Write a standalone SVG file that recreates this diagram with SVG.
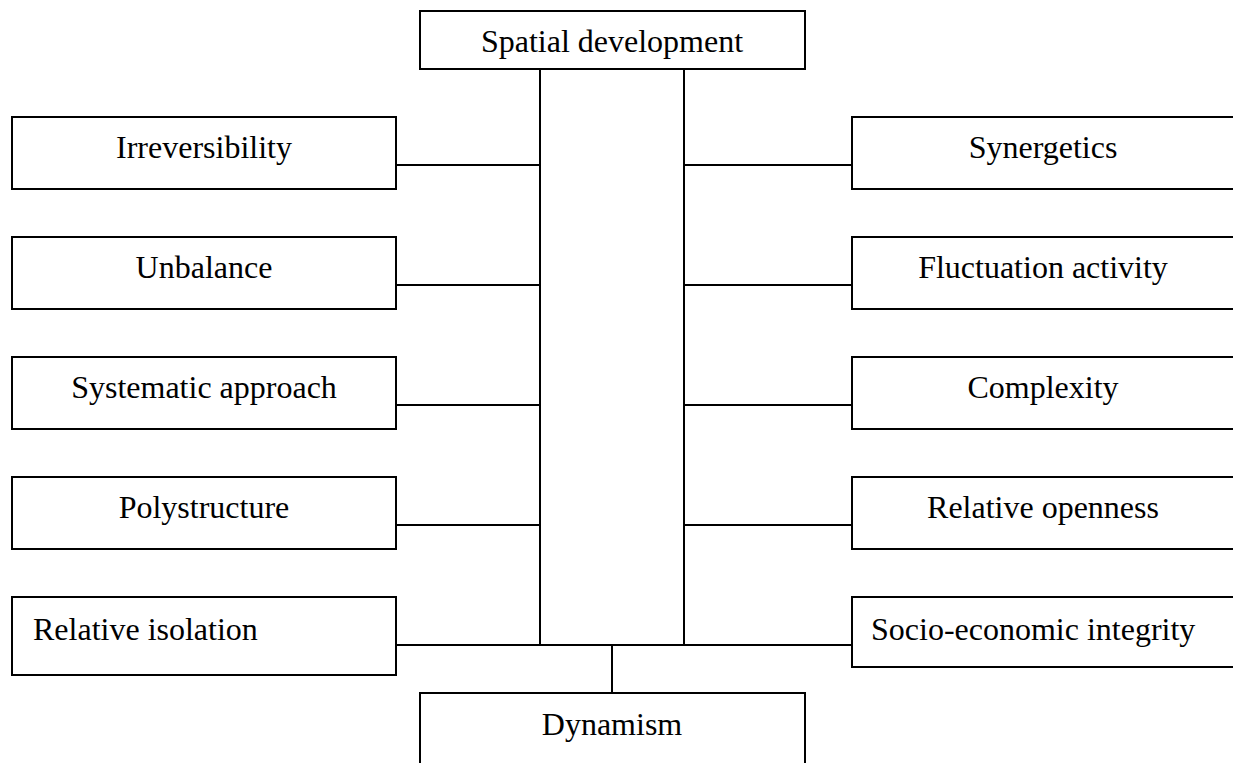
<svg xmlns="http://www.w3.org/2000/svg" width="1233" height="763" viewBox="0 0 1233 763">
<style>
.box{fill:#fff;stroke:#000;stroke-width:2}
.ln{stroke:#000;stroke-width:2;fill:none}
.t{font-family:"Liberation Serif","Times New Roman",serif;font-size:32px;fill:#000}
.c{text-anchor:middle}
</style>
<rect width="1233" height="763" fill="#fff"/>
<g id="connectors">
<path class="ln" d="M540,69V645M684,69V645M396,165H540M396,285H540M396,405H540M396,525H540M684,165H852M684,285H852M684,405H852M684,525H852M396,645H852M612,645V693"/>
</g>
<g id="spatial-development"><rect class="box" x="420" y="11" width="385" height="58"/><text class="t c" x="612" y="52">Spatial development</text></g>
<g id="irreversibility"><rect class="box" x="12" y="117" width="384" height="72"/><text class="t c" x="204" y="158">Irreversibility</text></g>
<g id="unbalance"><rect class="box" x="12" y="237" width="384" height="72"/><text class="t c" x="204" y="278">Unbalance</text></g>
<g id="systematic-approach"><rect class="box" x="12" y="357" width="384" height="72"/><text class="t c" x="204" y="398">Systematic approach</text></g>
<g id="polystructure"><rect class="box" x="12" y="477" width="384" height="72"/><text class="t c" x="204" y="518">Polystructure</text></g>
<g id="relative-isolation"><rect class="box" x="12" y="597" width="384" height="78"/><text class="t" x="33" y="640">Relative isolation</text></g>
<g id="synergetics"><rect class="box" x="852" y="117" width="386" height="72"/><text class="t c" x="1043" y="158">Synergetics</text></g>
<g id="fluctuation-activity"><rect class="box" x="852" y="237" width="386" height="72"/><text class="t c" x="1043" y="278">Fluctuation activity</text></g>
<g id="complexity"><rect class="box" x="852" y="357" width="386" height="72"/><text class="t c" x="1043" y="398">Complexity</text></g>
<g id="relative-openness"><rect class="box" x="852" y="477" width="386" height="72"/><text class="t c" x="1043" y="518">Relative openness</text></g>
<g id="socio-economic-integrity"><rect class="box" x="852" y="597" width="386" height="70"/><text class="t" x="871" y="640">Socio-economic integrity</text></g>
<g id="dynamism"><rect class="box" x="420" y="693" width="385" height="80"/><text class="t c" x="612" y="735">Dynamism</text></g>
</svg>
